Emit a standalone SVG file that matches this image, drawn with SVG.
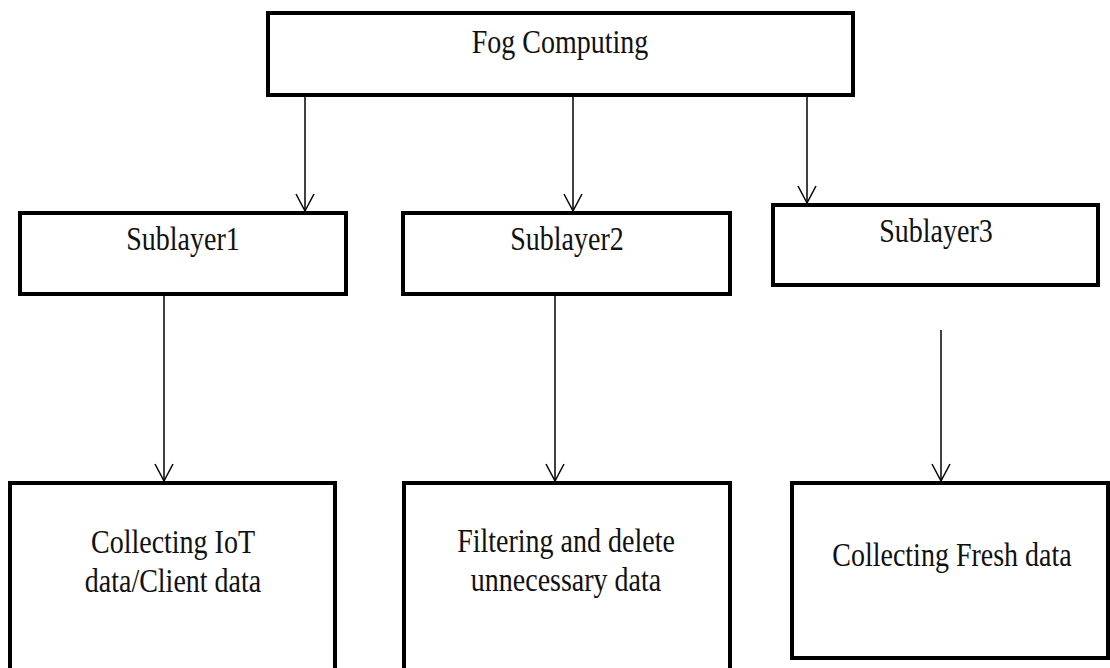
<svg xmlns="http://www.w3.org/2000/svg" width="1110" height="668" viewBox="0 0 1110 668">
<defs>
<style>
.box{fill:#fff;stroke:#000;stroke-width:4}
.lbl{font-family:"Liberation Serif","Times New Roman",serif;font-size:28px;fill:#111;text-anchor:middle}
.con{stroke:#000;stroke-width:1.5;fill:none}
</style>
<marker id="ah" markerWidth="24" markerHeight="24" viewBox="-20 -12 24 24" refX="0" refY="0" orient="auto" markerUnits="userSpaceOnUse">
<path d="M-17,-9 L0,0 L-17,9" fill="none" stroke="#000" stroke-width="1.5"/>
</marker>
</defs>
<rect width="1110" height="668" fill="#fff"/>
<g id="fog">
<rect class="box" x="268" y="13" width="585" height="82"/>
<text class="lbl" transform="translate(560,53) scale(1,1.17)">Fog Computing</text>
</g>
<g id="sublayer1">
<rect class="box" x="20" y="213" width="326" height="81"/>
<text class="lbl" transform="translate(183,250) scale(1,1.17)">Sublayer1</text>
</g>
<g id="sublayer2">
<rect class="box" x="403" y="213" width="327" height="81"/>
<text class="lbl" transform="translate(567,250) scale(1,1.17)">Sublayer2</text>
</g>
<g id="sublayer3">
<rect class="box" x="773" y="205" width="325" height="80"/>
<text class="lbl" transform="translate(936,242) scale(1,1.17)">Sublayer3</text>
</g>
<g id="collecting-iot">
<rect class="box" x="10" y="483" width="325" height="190"/>
<text class="lbl" transform="translate(173,553) scale(1,1.17)">Collecting IoT</text>
<text class="lbl" transform="translate(173,592) scale(1,1.17)">data/Client  data</text>
</g>
<g id="filtering">
<rect class="box" x="404" y="483" width="326" height="190"/>
<text class="lbl" transform="translate(566,552) scale(1,1.17)">Filtering and delete</text>
<text class="lbl" transform="translate(566,591) scale(1,1.17)">unnecessary  data</text>
</g>
<g id="collecting-fresh">
<rect class="box" x="792" y="483" width="316" height="175"/>
<text class="lbl" transform="translate(952,566) scale(1,1.17)">Collecting Fresh data</text>
</g>
<g id="connectors">
<line class="con" x1="305" y1="95" x2="305" y2="211" marker-end="url(#ah)"/>
<line class="con" x1="573" y1="95" x2="573" y2="211" marker-end="url(#ah)"/>
<line class="con" x1="807" y1="95" x2="807" y2="203" marker-end="url(#ah)"/>
<line class="con" x1="164" y1="294" x2="164" y2="481" marker-end="url(#ah)"/>
<line class="con" x1="555" y1="294" x2="555" y2="481" marker-end="url(#ah)"/>
<line class="con" x1="941" y1="330" x2="941" y2="481" marker-end="url(#ah)"/>
</g>
</svg>
